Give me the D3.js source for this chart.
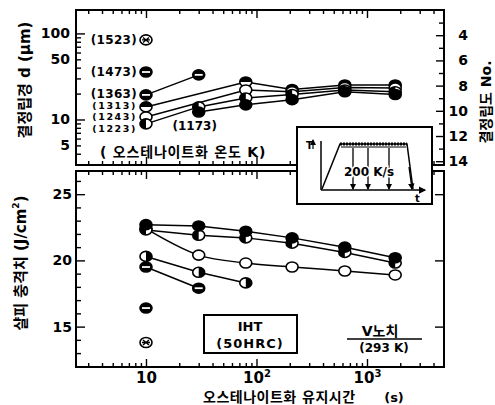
<!DOCTYPE html>
<html><head><meta charset="utf-8">
<script src="https://cdn.jsdelivr.net/npm/d3@7/dist/d3.min.js"></script>
<style>
body{margin:0;background:#fff;}
svg text{font-family:"DejaVu Sans","Noto Sans CJK KR",sans-serif;font-weight:bold;fill:#000;}
</style></head><body>
<svg id="c" width="495" height="405"></svg>
<script>
// ---------------- data ----------------
// top panel: grain size d (µm) vs holding time (s), one array pair per austenitizing temperature (K)
const tempLabels = ["1523","1473","1363","1313","1243","1223","1173"];
const t1523 = [10],                         d1523 = [84];
const t1473 = [10],                         d1473 = [35.6];
const t1363 = [10, 30],                     d1363 = [19.3, 33];
const t1313 = [10, 80, 210, 630, 1800],     d1313 = [14.0, 27.3, 22.3, 25.2, 25.2];
const t1243 = [10, 80, 210, 630, 1800],     d1243 = [10.7, 22.0, 21.0, 23.5, 23.2];
const t1223 = [10, 30, 80, 210, 630, 1800], d1223 = [8.9, 14.0, 17.8, 19.5, 22.0, 21.0];
const t1173 = [30, 80, 210, 630, 1800],     d1173 = [12.2, 14.8, 17.0, 21.0, 19.5];
// bottom panel: Charpy impact value (J/cm2) vs holding time (s)
const tLong = [10, 30, 80, 210, 630, 1800];
const vA = [22.7, 22.6, 22.2, 21.7, 21.0, 20.2];
const vB = [22.3, 21.9, 21.7, 21.3, 20.6, 19.8];
const vC = [22.4, 20.4, 19.8, 19.5, 19.2, 18.9];
const tD = [10, 30, 80],  vD = [20.3, 19.1, 18.3];
const tE = [10, 30],      vE = [19.5, 17.9];
const tF = [10],          vF = [16.4];
const tG = [10],          vG = [13.8];
// ticks
const xMajor = [10, 100, 1000];
const xMinor = [3,4,5,6,7,8,9,20,30,40,50,60,70,80,90,200,300,400,500,600,700,800,900,2000,3000,4000];
const dLabels = [5, 10, 50, 100];
const dMajor = [10, 100];
const dMinor = [3,4,5,6,7,8,9,20,30,40,50,60,70,80,90];
const gLabels = [4, 6, 8, 10, 12, 14];
const gMinor = [3, 5, 7, 9, 11, 13];
const eLabels = [15, 20, 25];
const eMinor = [12,13,14,16,17,18,19,21,22,23,24,26];

// ---------------- layout ----------------
const svg = d3.select('#c');
const X0 = 76, X1 = 444, T0 = 10, T1 = 165, B0 = 171, B1 = 367;
const x  = d3.scaleLog().domain([2.326, 4976]).range([X0, X1]);
const yD = d3.scaleLog().domain([2.96, 187]).range([T1, T0]);
const yG = d3.scaleLinear().domain([2, 14.3]).range([T0, T1]);
const yE = d3.scaleLinear().domain([11.95, 26.75]).range([B1, B0]);

function axis(transform, gen, values, size, fmt, pad, fs) {
  const g = svg.append('g').attr('transform', transform);
  g.call(gen.tickValues(values).tickSizeInner(size).tickSizeOuter(0)
    .tickPadding(pad || 3).tickFormat(fmt || (() => '')));
  g.select('.domain').remove();
  g.selectAll('line').attr('stroke', '#000').attr('stroke-width', 1.4);
  g.selectAll('text').style('font-size', (fs || 14) + 'px');
  return g;
}

// frames
[[T0, T1], [B0, B1]].forEach(([a, b]) => {
  svg.append('rect').attr('x', X0).attr('y', a).attr('width', X1 - X0).attr('height', b - a)
    .attr('fill', 'none').attr('stroke', '#000').attr('stroke-width', 2);
});

// x ticks (all four horizontal edges)
axis(`translate(0,${T1})`, d3.axisBottom(x), xMajor, -8);
axis(`translate(0,${T1})`, d3.axisBottom(x), xMinor, -4);
axis(`translate(0,${T0})`, d3.axisTop(x), xMajor, -8);
axis(`translate(0,${T0})`, d3.axisTop(x), xMinor, -4);
axis(`translate(0,${B0})`, d3.axisTop(x), xMajor, -8);
axis(`translate(0,${B0})`, d3.axisTop(x), xMinor, -4);
axis(`translate(0,${B1})`, d3.axisBottom(x), xMinor, -4);
const xl = axis(`translate(0,${B1})`, d3.axisBottom(x), xMajor, -8, d => '10', 5, 15);
xl.selectAll('text').each(function(d) {
  const e = Math.round(Math.log10(d));
  if (e > 1) d3.select(this).append('tspan').attr('dy', '-0.55em').style('font-size', '10px').text(e);
});

// top-left log axis (grain size)
axis(`translate(${X0},0)`, d3.axisLeft(yD), dMajor, -9);
axis(`translate(${X0},0)`, d3.axisLeft(yD), dMinor, -5);
axis(`translate(${X0},0)`, d3.axisLeft(yD), dLabels, 0, d3.format('d'), 6);
// top-right grain size number axis
axis(`translate(${X1},0)`, d3.axisRight(yG), gLabels, -8);
axis(`translate(${X1},0)`, d3.axisRight(yG), gMinor, -5);
const gl = axis(`translate(${X1},0)`, d3.axisRight(yG), gLabels, 0, d3.format('d'), 4);
gl.selectAll('text').attr('text-anchor', 'end').attr('x', 24);

// bottom Charpy axis
axis(`translate(${X0},0)`, d3.axisLeft(yE), eLabels, -9, d3.format('d'), 4);
axis(`translate(${X0},0)`, d3.axisLeft(yE), eMinor, -5);
axis(`translate(${X1},0)`, d3.axisRight(yE), eLabels, -9);

// ---------------- series ----------------
const zip = (t, v, m) => t.map((tt, i) => ({t: tt, v: v[i], m}));
const topSeries = [
  {pts: zip(t1523, d1523, 'cross')},
  {pts: zip(t1473, d1473, 'minus')},
  {pts: zip(t1363, d1363, 'minus')},
  {pts: zip(t1313, d1313, 'topFilled')},
  {pts: zip(t1243, d1243, 'open')},
  {pts: zip(t1223, d1223, 'leftFilled')},
  {pts: zip(t1173, d1173, 'filled')}
];
const botSeries = [
  {pts: zip(tLong, vC, 'open'), curve: d3.curveMonotoneX},
  {pts: zip(tLong, vB, 'leftFilled')},
  {pts: zip(tLong, vA, 'filled')},
  {pts: zip(tD, vD, 'rightFilled')},
  {pts: zip(tE, vE, 'minus')},
  {pts: zip(tF, vF, 'minus')},
  {pts: zip(tG, vG, 'cross')}
];

function drawMarker(sel, type) {
  const rx = 6, ry = 5;
  sel.append('ellipse').attr('rx', rx).attr('ry', ry)
    .attr('fill', (type === 'filled' || type === 'minus') ? '#000' : '#fff')
    .attr('stroke', '#000').attr('stroke-width', 1.6);
  const half = {
    topFilled: `M${-rx},0A${rx},${ry} 0 0 1 ${rx},0Z`,
    bottomFilled: `M${-rx},0A${rx},${ry} 0 0 0 ${rx},0Z`,
    leftFilled: `M0,${-ry}A${rx},${ry} 0 0 0 0,${ry}Z`,
    rightFilled: `M0,${-ry}A${rx},${ry} 0 0 1 0,${ry}Z`
  }[type];
  if (half) sel.append('path').attr('d', half).attr('fill', '#000');
  if (type === 'minus') sel.append('line').attr('x1', -rx + 2).attr('x2', rx - 2)
    .attr('stroke', '#fff').attr('stroke-width', 1.8);
  if (type === 'cross') {
    sel.append('path').attr('d', `M-3,-2.5L3,2.5M-3,2.5L3,-2.5M-4,0L4,0`)
      .attr('stroke', '#000').attr('stroke-width', 1.4);
  }
}

function drawPanel(series, yScale) {
  series.forEach(s => {
    if (s.pts.length > 1) {
      svg.append('path').datum(s.pts)
        .attr('d', d3.line().x(d => x(d.t)).y(d => yScale(d.v)).curve(s.curve || d3.curveLinear))
        .attr('fill', 'none').attr('stroke', '#000').attr('stroke-width', 1.5);
    }
  });
  series.forEach(s => {
    svg.append('g').selectAll('g').data(s.pts).join('g')
      .attr('transform', d => `translate(${x(d.t)},${yScale(d.v)})`)
      .each(function(d) { drawMarker(d3.select(this), d.m); });
  });
}
drawPanel(topSeries, yD);
drawPanel(botSeries, yE);

// temperature labels
const labelShift = [0, 0, -1, -1.5, -0.5, 4.5];
topSeries.forEach((s, i) => {
  const p = s.pts[0];
  if (i < 6) {
    const small = i >= 3;
    svg.append('text').attr('x', x(p.t) - 9).attr('y', yD(p.v) + labelShift[i])
      .attr('text-anchor', 'end').attr('dominant-baseline', 'central')
      .style('font-size', small ? '9.5px' : '12px').style('letter-spacing', small ? '1.6px' : '0.3px')
      .text(`(${tempLabels[i]})`);
  } else {
    svg.append('text').attr('x', x(p.t) - 4).attr('y', yD(p.v) + 14)
      .attr('text-anchor', 'middle').attr('dominant-baseline', 'central')
      .style('font-size', '12px').text(`(${tempLabels[i]})`);
  }
});

// text annotations
svg.append('text').attr('x', 100).attr('y', 152).attr('dominant-baseline', 'central')
  .style('font-size', '14px').style('letter-spacing', '0.8px').text('( 오스테나이트화 온도 K)');

svg.append('text').attr('transform', 'translate(25,80) rotate(-90)').attr('text-anchor', 'middle')
  .attr('dominant-baseline', 'central').style('font-size', '15px').text('결정립경  d  (μm)');
svg.append('text').attr('transform', 'translate(21,263) rotate(-90)').attr('text-anchor', 'middle')
  .attr('dominant-baseline', 'central').style('font-size', '15px').html('샬피  충격치  (J/cm<tspan dy="-5" font-size="9">2</tspan><tspan dy="5">)</tspan>');
svg.append('text').attr('transform', 'translate(486,102) rotate(-90)').attr('text-anchor', 'middle')
  .attr('dominant-baseline', 'central').style('font-size', '14px').text('결정립도 No.');

svg.append('text').attr('x', 203).attr('y', 397).attr('dominant-baseline', 'central')
  .style('font-size', '14px').style('letter-spacing', '0.5px').text('오스테나이트화 유지시간');
svg.append('text').attr('x', 394).attr('y', 397).attr('text-anchor', 'middle').attr('dominant-baseline', 'central')
  .style('font-size', '13px').text('(s)');

// IHT box
svg.append('rect').attr('x', 204).attr('y', 315).attr('width', 93).attr('height', 38)
  .attr('fill', '#fff').attr('stroke', '#000').attr('stroke-width', 2);
svg.append('text').attr('x', 250).attr('y', 326).attr('text-anchor', 'middle').attr('dominant-baseline', 'central')
  .style('font-size', '13px').text('IHT');
svg.append('text').attr('x', 250).attr('y', 343).attr('text-anchor', 'middle').attr('dominant-baseline', 'central')
  .style('font-size', '13px').style('letter-spacing', '1px').text('(50HRC)');

// V-notch note
svg.append('text').attr('x', 380).attr('y', 331).attr('text-anchor', 'middle').attr('dominant-baseline', 'central')
  .style('font-size', '14px').text('V노치');
svg.append('line').attr('x1', 347).attr('x2', 422).attr('y1', 339).attr('y2', 339)
  .attr('stroke', '#000').attr('stroke-width', 1.5);
svg.append('text').attr('x', 384).attr('y', 348).attr('text-anchor', 'middle').attr('dominant-baseline', 'central')
  .style('font-size', '12px').text('(293 K)');

// inset: heat-treatment schematic
const ins = svg.append('g').attr('transform', 'translate(297,127)');
ins.append('rect').attr('width', 135).attr('height', 77).attr('fill', '#fff')
  .attr('stroke', '#000').attr('stroke-width', 2);
const defs = svg.append('defs');
defs.append('marker').attr('id', 'ah').attr('viewBox', '0 0 6 6').attr('refX', 5).attr('refY', 3)
  .attr('markerWidth', 5).attr('markerHeight', 5).attr('orient', 'auto')
  .append('path').attr('d', 'M0,0L6,3L0,6Z').attr('fill', '#000');
ins.append('path').attr('d', 'M24,63L24,14').attr('stroke', '#000').attr('stroke-width', 1.5).attr('fill', 'none');
ins.append('path').attr('d', 'M24,63L128,63').attr('stroke', '#000').attr('stroke-width', 1.5)
  .attr('fill', 'none').attr('marker-end', 'url(#ah)');
ins.append('text').attr('x', 9).attr('y', 18).attr('dominant-baseline', 'central').style('font-size', '10px').text('T');
ins.append('path').attr('d', 'M16,22L16,13').attr('stroke', '#000').attr('stroke-width', 1.2).attr('marker-end', 'url(#ah)');
ins.append('text').attr('x', 118).attr('y', 71).attr('dominant-baseline', 'central').style('font-size', '10px').text('t');
ins.append('path').attr('d', 'M25,62L43,17L110,17L116,62').attr('stroke', '#000').attr('stroke-width', 1.5).attr('fill', 'none');
ins.append('path').attr('d', 'M43,17L110,17').attr('stroke', '#000').attr('stroke-width', 3)
  .attr('stroke-dasharray', '2,1');
ins.append('path').attr('d', 'M44,20L109,20').attr('stroke', '#000').attr('stroke-width', 1);
[56, 71, 92].forEach(ax => {
  ins.append('path').attr('d', `M${ax},21L${ax},62`).attr('stroke', '#000').attr('stroke-width', 1.3)
    .attr('marker-end', 'url(#ah)');
});
ins.append('path').attr('d', 'M112,40L115,62').attr('stroke', '#000').attr('stroke-width', 1.3).attr('marker-end', 'url(#ah)');
ins.append('text').attr('x', 72).attr('y', 45).attr('text-anchor', 'middle').attr('dominant-baseline', 'central')
  .style('font-size', '12px').style('stroke', '#fff').style('stroke-width', '3px').style('paint-order', 'stroke')
  .text('200 K/s');
</script>
</body></html>
